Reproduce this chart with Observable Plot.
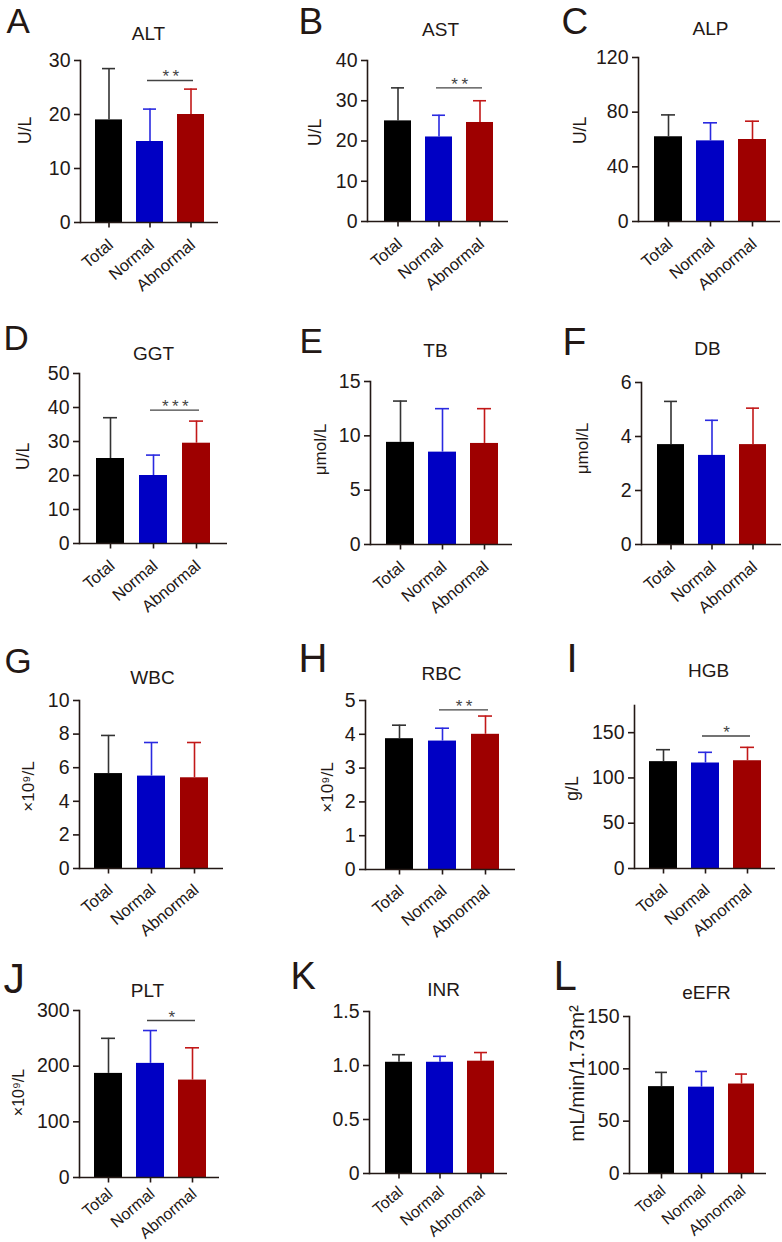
<!DOCTYPE html>
<html>
<head>
<meta charset="utf-8">
<script src="https://cdn.jsdelivr.net/npm/d3@7"></script>
<script src="https://cdn.jsdelivr.net/npm/@observablehq/plot@0.6"></script>
<style>
  html, body { margin: 0; padding: 0; background: #fff; }
  #fig { position: relative; width: 782px; height: 1242px; overflow: hidden; background: #fff; }
  #fig svg { position: absolute; }
</style>
</head>
<body>
<div id="fig"></div>
<script>
// ---------- data ----------
const groups = ["Total", "Normal", "Abnormal"];
const letters = ["A", "B", "C", "D", "E", "F", "G", "H", "I", "J", "K", "L"];
const titles = ["ALT", "AST", "ALP", "GGT", "TB", "DB", "WBC", "RBC", "HGB", "PLT", "INR", "eEFR"];
const units = ["U/L", "U/L", "U/L", "U/L", "μmol/L", "μmol/L", "×10⁹/L", "×10⁹/L", "g/L", "×10⁹/L", "", "mL/min/1.73m²"];
const yMax = [30, 40, 120, 50, 15, 6, 10, 5, 180, 300, 1.5, 150];
const yTicks = [
  [0, 10, 20, 30], [0, 10, 20, 30, 40], [0, 40, 80, 120],
  [0, 10, 20, 30, 40, 50], [0, 5, 10, 15], [0, 2, 4, 6],
  [0, 2, 4, 6, 8, 10], [0, 1, 2, 3, 4, 5], [0, 50, 100, 150],
  [0, 100, 200, 300], [0, 0.5, 1.0, 1.5], [0, 50, 100, 150]
];
const means = [
  [19, 15, 20], [25, 21, 24.6], [62, 59, 60],
  [25, 20, 29.5], [9.4, 8.5, 9.3], [3.7, 3.3, 3.7],
  [5.65, 5.5, 5.4], [3.87, 3.8, 4.0], [118, 116.5, 119],
  [187, 205, 175], [1.03, 1.03, 1.04], [83, 82.5, 85.5]
];
const sds = [
  [9.5, 6, 4.7], [8.2, 5.4, 5.4], [16, 13.2, 13.4],
  [12, 6, 6.5], [3.8, 4.0, 3.2], [1.6, 1.3, 1.35],
  [2.27, 2.0, 2.1], [0.4, 0.38, 0.54], [13.2, 11.8, 14.8],
  [63, 59, 58], [0.07, 0.055, 0.08], [13.6, 15, 9.5]
];
const sigLabels = ["**", "**", "", "***", "", "", "", "**", "*", "*", "", ""];
const sigY = [26.3, 33.2, null, 39.2, null, null, null, 4.72, 146.3, 282, null, null];

// ---------- layout & style (page pixels) ----------
const layout = [
  {ax: 80,  rx: 218, yt: 60,   y0: 222,  b0: 94,    b2: 205,   lx: 6,   ly: 8,   ls: 35, tx: 148, ty: 33,  ux: 25,  uy: 130,  us: 17.5, lp: 20, lf: 16.5},
  {ax: 367, rx: 508, yt: 60,   y0: 221,  b0: 384,   b2: 494,   lx: 298, ly: 7,   ls: 37, tx: 440, ty: 29,  ux: 315, uy: 132,  us: 17.5, lp: 20, lf: 16.5},
  {ax: 638, rx: 780, yt: 57,   y0: 221,  b0: 653,   b2: 766,   lx: 561, ly: 7,   ls: 37, tx: 710, ty: 28,  ux: 580, uy: 130,  us: 17.5, lp: 20, lf: 16.5},
  {ax: 79,  rx: 227, yt: 373,  y0: 543,  b0: 94.5,  b2: 211,   lx: 3,   ly: 325, ls: 35, tx: 153, ty: 353, ux: 23,  uy: 456,  us: 17.5, lp: 20, lf: 16.5},
  {ax: 370, rx: 512, yt: 381,  y0: 544,  b0: 386,   b2: 498,   lx: 299, ly: 328, ls: 35, tx: 435, ty: 350, ux: 320, uy: 449,  us: 17,   lp: 20, lf: 16.5},
  {ax: 641, rx: 781, yt: 382,  y0: 544,  b0: 656.5, b2: 767.5, lx: 562, ly: 327, ls: 39, tx: 707, ty: 348, ux: 582, uy: 448,  us: 17,   lp: 20, lf: 16.5},
  {ax: 79,  rx: 223, yt: 700,  y0: 868,  b0: 93.3,  b2: 208.3, lx: 4,   ly: 648, ls: 35, tx: 152, ty: 677, ux: 28,  uy: 786,  us: 17,   lp: 19, lf: 16.5},
  {ax: 365, rx: 515, yt: 700,  y0: 869,  b0: 385,   b2: 500,   lx: 298, ly: 643, ls: 40, tx: 441, ty: 673, ux: 327, uy: 787,  us: 17,   lp: 19, lf: 16.5},
  {ax: 634, rx: 775, yt: 705,  y0: 868,  b0: 648.3, b2: 761,   lx: 566, ly: 643, ls: 40, tx: 708, ty: 670, ux: 572, uy: 788,  us: 17.5, lp: 19, lf: 16.5},
  {ax: 79,  rx: 219, yt: 1010, y0: 1177, b0: 92.7,  b2: 206.7, lx: 3,   ly: 962, ls: 43, tx: 147, ty: 990, ux: 18,  uy: 1092, us: 16,   lp: 14, lf: 16},
  {ax: 369, rx: 507, yt: 1011, y0: 1173, b0: 384,   b2: 495,   lx: 290, ly: 962, ls: 38, tx: 443, ty: 989, ux: 0,   uy: 0,    us: 17,   lp: 16, lf: 16},
  {ax: 629, rx: 766, yt: 1016, y0: 1173, b0: 647.3, b2: 755,   lx: 553, ly: 960, ls: 42, tx: 706, ty: 992, ux: 577, uy: 1073, us: 20.5, lp: 15, lf: 16}
];
const barColors = ["#000000", "#0000C4", "#9E0000"];
const errColors = ["#333333", "#2a2ae0", "#C21818"];
const ink = "#231815";
const font = "'Liberation Sans', Arial, Helvetica, sans-serif";
const padInner = 0.34;

const fig = document.getElementById("fig");

layout.forEach((L, i) => {
  const ml = 85, mr = 10, mt = 66;
  const mb = Math.min(80, 1241 - L.y0);
  const left = L.ax - ml, top = L.yt - mt;
  const W = L.rx - L.ax + ml + mr;
  const H = L.y0 - L.yt + mt + mb;
  const step = (L.b2 - L.b0) / (3 - padInner);
  const midY = (L.yt + L.y0) / 2;

  const table = groups.map((g, j) => ({
    group: g,
    mean: means[i][j],
    up: means[i][j] + sds[i][j],
    fill: barColors[j],
    stroke: errColors[j]
  }));

  const isDecimal = yTicks[i].some(t => !Number.isInteger(t));
  const fmt = isDecimal ? (d => d === 0 ? "0" : d.toFixed(1)) : (d => String(d));

  const marks = [
    Plot.barY(table, {x: "group", y: "mean", fill: "fill"}),
    Plot.ruleX(table, {x: "group", y1: "mean", y2: "up", stroke: "stroke", strokeWidth: 1.6}),
    Plot.tickY(table, {x: "group", y: "up", stroke: "stroke", strokeWidth: 1.6, insetLeft: 7, insetRight: 7}),
    Plot.ruleY([0], {stroke: ink, strokeWidth: 1.6}),
    Plot.frame({anchor: "left", stroke: ink, strokeWidth: 1.6}),
    // x ticks (short downward marks at band centres)
    Plot.ruleX(groups, {x: d => d, y1: 0, y2: 0, insetTop: 5.5, stroke: ink, strokeWidth: 1.6}),
    // rotated x tick labels
    Plot.text(groups, {x: d => d, frameAnchor: "bottom", rotate: -40, textAnchor: "end", lineAnchor: "middle", dx: 2, dy: L.lp, fontSize: L.lf, fill: ink}),
    Plot.axisY({ticks: yTicks[i], tickFormat: fmt, tickSize: 6, tickPadding: 4, fontSize: 19.5, label: null, stroke: ink, strokeWidth: 1.6}),
    Plot.text([titles[i]], {frameAnchor: "top", dx: L.tx - (L.ax + L.rx) / 2, dy: L.ty - L.yt, fontSize: 19, textAnchor: "middle", lineAnchor: "middle", fill: ink}),
    Plot.text([letters[i]], {frameAnchor: "top-left", dx: L.lx - L.ax, dy: L.ly - L.yt, fontSize: L.ls, textAnchor: "start", lineAnchor: "top", fill: ink})
  ];
  if (units[i]) {
    marks.push(Plot.text([units[i]], {frameAnchor: "left", dx: L.ux - L.ax, dy: L.uy - midY, rotate: -90, textAnchor: "middle", lineAnchor: "middle", fontSize: L.us, fill: ink}));
  }
  if (sigLabels[i]) {
    const sig = [{y: sigY[i], label: sigLabels[i].split("").join("\u2009")}];
    marks.push(Plot.ruleY(sig, {y: "y", x1: () => "Normal", x2: () => "Abnormal", insetLeft: 11, insetRight: 11, stroke: "#444", strokeWidth: 1.3}));
    marks.push(Plot.text(sig, {x: () => "Normal", y: "y", text: "label", dx: step / 2, dy: 2, textAnchor: "middle", lineAnchor: "bottom", fontSize: 17, fill: "#444"}));
  }

  const svg = Plot.plot({
    width: W,
    height: H,
    marginLeft: ml, marginRight: mr, marginTop: mt, marginBottom: mb,
    style: {background: "transparent", overflow: "visible", fontFamily: font, color: ink},
    x: {domain: groups, range: [L.b0 - left, L.b2 - left], paddingInner: padInner, paddingOuter: 0, axis: null},
    y: {domain: [0, yMax[i]]},
    marks
  });
  svg.style.left = left + "px";
  svg.style.top = top + "px";
  svg.style.maxWidth = "none";
  fig.appendChild(svg);
});
</script>
</body>
</html>
